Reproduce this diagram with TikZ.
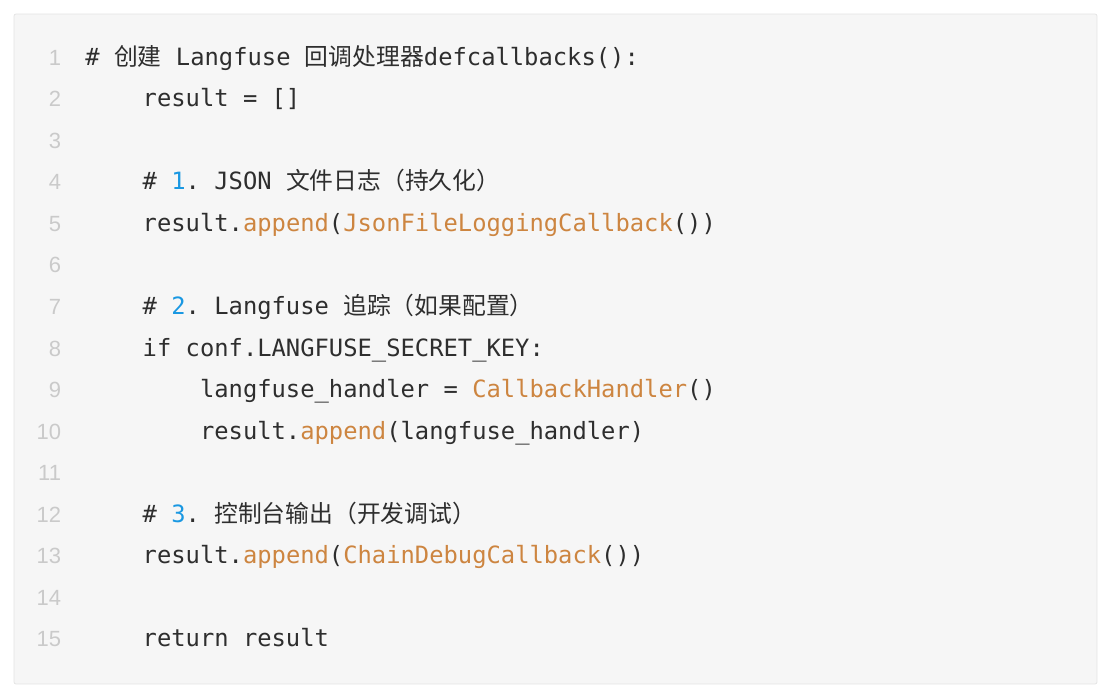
\documentclass[tikz,border=0pt]{standalone}
\usepackage{fontspec}
\setmonofont{DejaVu Sans Mono}
\newfontfamily\cjk{Noto Sans CJK SC}
\newfontfamily\numfont{Liberation Sans}
\usetikzlibrary{matrix}

\definecolor{codebg}{HTML}{F6F6F6}
\definecolor{codeborder}{HTML}{E4E4E4}
\definecolor{codetext}{HTML}{2E2E2E}
\definecolor{linegray}{HTML}{CACACA}
\definecolor{callorange}{HTML}{CD8540}
\definecolor{stepblue}{HTML}{1A98E2}

\newcommand\tab{\phantom{0000}}
\newcommand\call[1]{\textcolor{callorange}{#1}}
\newcommand\stepno[1]{\textcolor{stepblue}{#1}}

\begin{document}
\begin{tikzpicture}[x=0.5pt,y=-0.5pt]

\tikzset{code matrix/.style={
    matrix of nodes,
    inner sep=0pt,
    column sep=12pt, row sep=0pt,
    nodes={inner sep=0pt,
      text height=14pt,
      text depth=6.785pt,
      font=\ttfamily\fontsize{11.9}{14}\selectfont,
      text=codetext
    },
    column 1/.style={anchor=base east,
      nodes={font=\numfont\fontsize{11}{12}\selectfont, text=linegray}},
    column 2/.style={anchor=base west}
  }
}

\useasboundingbox (0,0) rectangle (1112,696);
\draw[codeborder, fill=codebg, rounded corners=1pt] (14,14) rectangle (1097,684);

\matrix (code) [code matrix, matrix anchor=code-1-2.base west] at (85,65)
{
1 & \# {\cjk 创建} Langfuse {\cjk 回调处理器}defcallbacks(): \\
2 & \tab result = [] \\
3 & \\
4 & \tab\# \stepno{1}. JSON {\cjk 文件日志（持久化）} \\
5 & \tab result.\call{append}(\call{JsonFileLoggingCallback}()) \\
6 & \\
7 & \tab\# \stepno{2}. Langfuse {\cjk 追踪（如果配置）} \\
8 & \tab if conf.LANGFUSE\_SECRET\_KEY: \\
9 & \tab\tab langfuse\_handler = \call{CallbackHandler}() \\
10 & \tab\tab result.\call{append}(langfuse\_handler) \\
11 & \\
12 & \tab\# \stepno{3}. {\cjk 控制台输出（开发调试）} \\
13 & \tab result.\call{append}(\call{ChainDebugCallback}()) \\
14 & \\
15 & \tab return result \\
};

\end{tikzpicture}
\end{document}
